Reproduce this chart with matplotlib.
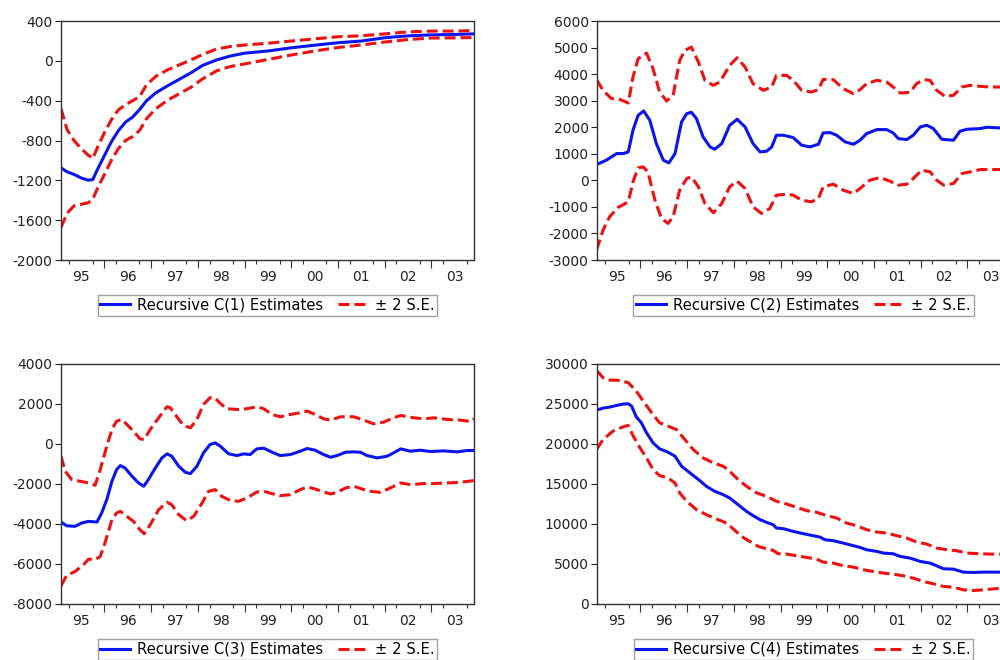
import matplotlib
matplotlib.use("Agg")
import matplotlib.pyplot as plt
from matplotlib.ticker import MultipleLocator, FixedLocator, NullFormatter

plt.rcParams['font.family'] = ['DejaVu Sans']
plt.rcParams['axes.unicode_minus'] = False

# ---- C(1) ----
x1 = [1995.07, 1995.2, 1995.35, 1995.5, 1995.65, 1995.75, 1995.85, 1996.0, 1996.15, 1996.3,
      1996.45, 1996.6, 1996.75, 1996.9, 1997.1, 1997.35, 1997.6, 1997.85, 1998.1, 1998.4,
      1998.7, 1999.0, 1999.5, 2000.0, 2000.5, 2001.0, 2001.5, 2002.0, 2002.5, 2003.0,
      2003.5, 2003.91]
c1_est = [-1074, -1114, -1140, -1175, -1198, -1192, -1090, -950, -810, -700,
          -615, -565, -490, -400, -320, -250, -185, -120, -45, 10,
          50, 78, 100, 132, 158, 183, 200, 233, 252, 262, 266, 272]
c1_up = [-480, -690, -800, -880, -945, -980, -870, -720, -590, -490,
         -440, -400, -360, -240, -155, -90, -40, 10, 65, 120,
         145, 160, 178, 200, 222, 243, 253, 272, 292, 300, 300, 305]
c1_lo = [-1673, -1530, -1455, -1440, -1425, -1390, -1280, -1140, -995, -880,
         -800, -760, -700, -580, -480, -395, -330, -265, -180, -100,
         -55, -30, 15, 60, 100, 135, 160, 190, 215, 230, 232, 235]

# ---- C(2) ----
x2_est = [1995.06, 1995.27, 1995.49, 1995.63, 1995.74, 1995.84, 1995.95, 1996.07, 1996.2, 1996.34,
          1996.49, 1996.61, 1996.74, 1996.88, 1996.99, 1997.09, 1997.2, 1997.34, 1997.49, 1997.59,
          1997.74, 1997.91, 1998.07, 1998.24, 1998.41, 1998.56, 1998.7, 1998.81, 1998.91, 1999.06,
          1999.27, 1999.45, 1999.63, 1999.81, 1999.91, 2000.06, 2000.2, 2000.38, 2000.56, 2000.7,
          2000.84, 2001.06, 2001.27, 2001.41, 2001.52, 2001.7, 2001.84, 2001.99, 2002.13, 2002.27,
          2002.45, 2002.7, 2002.84, 2002.99, 2003.27, 2003.41, 2003.7, 2003.91]
c2_est = [597, 760, 1011, 1011, 1074, 1889, 2453, 2616, 2265, 1387,
          760, 660, 1011, 2202, 2515, 2566, 2327, 1638, 1262, 1174,
          1387, 2077, 2302, 2014, 1387, 1074, 1099, 1262, 1701, 1701,
          1613, 1325, 1262, 1362, 1788, 1801, 1701, 1450, 1362, 1513,
          1763, 1914, 1914, 1788, 1575, 1538, 1701, 2014, 2077, 1952,
          1550, 1513, 1851, 1927, 1952, 2002, 1977, 1977]
x2_up = [1995.06, 1995.2, 1995.38, 1995.52, 1995.74, 1995.84, 1995.95, 1996.13, 1996.27, 1996.41,
         1996.56, 1996.7, 1996.84, 1996.95, 1997.09, 1997.24, 1997.38, 1997.56, 1997.7, 1997.91,
         1998.07, 1998.24, 1998.41, 1998.63, 1998.81, 1998.91, 1999.13, 1999.27, 1999.45, 1999.66,
         1999.81, 1999.91, 2000.13, 2000.34, 2000.56, 2000.7, 2000.84, 2001.06, 2001.27, 2001.41,
         2001.56, 2001.77, 2001.91, 2002.06, 2002.2, 2002.34, 2002.52, 2002.7, 2002.88, 2003.06,
         2003.27, 2003.49, 2003.7, 2003.91]
c2_up = [3794, 3393, 3079, 3079, 2916, 3894, 4584, 4797, 4207, 3330,
         2992, 3205, 4521, 4897, 5022, 4458, 3769, 3581, 3706, 4333,
         4621, 4270, 3643, 3393, 3518, 3957, 3957, 3769, 3393, 3330,
         3418, 3806, 3794, 3455, 3267, 3418, 3643, 3769, 3706, 3518,
         3292, 3318, 3643, 3794, 3769, 3393, 3167, 3205, 3518, 3581,
         3543, 3518, 3518, 3518]
x2_lo = [1995.06, 1995.2, 1995.34, 1995.52, 1995.74, 1995.84, 1995.95, 1996.06, 1996.16, 1996.31,
         1996.45, 1996.59, 1996.7, 1996.84, 1996.99, 1997.09, 1997.24, 1997.38, 1997.56, 1997.74,
         1997.91, 1998.07, 1998.24, 1998.41, 1998.59, 1998.77, 1998.91, 1999.13, 1999.27, 1999.45,
         1999.66, 1999.81, 1999.91, 2000.13, 2000.34, 2000.56, 2000.7, 2000.91, 2001.13, 2001.34,
         2001.52, 2001.7, 2001.84, 2002.02, 2002.2, 2002.34, 2002.49, 2002.7, 2002.88, 2003.06,
         2003.27, 2003.49, 2003.7, 2003.91]
c2_lo = [-2624, -1872, -1371, -1020, -807, -55, 471, 509, 322, -744,
         -1433, -1621, -1371, -368, 71, 134, -242, -869, -1220, -869,
         -242, -29, -305, -995, -1245, -1057, -556, -518, -556, -744,
         -807, -681, -242, -142, -368, -493, -305, 9, 109, -29,
         -180, -142, 71, 384, 322, 9, -180, -117, 259, 322,
         409, 409, 409, 409]

# ---- C(3) ----
x3_est = [1995.07, 1995.19, 1995.37, 1995.51, 1995.66, 1995.84, 1995.94, 1996.05, 1996.16, 1996.26,
          1996.34, 1996.44, 1996.59, 1996.73, 1996.84, 1996.94, 1997.09, 1997.23, 1997.34, 1997.44,
          1997.59, 1997.73, 1997.84, 1997.98, 1998.12, 1998.26, 1998.37, 1998.48, 1998.66, 1998.84,
          1998.98, 1999.12, 1999.26, 1999.41, 1999.59, 1999.76, 1999.98, 2000.19, 2000.34, 2000.51,
          2000.69, 2000.84, 2000.98, 2001.16, 2001.34, 2001.48, 2001.62, 2001.84, 2002.05, 2002.19,
          2002.34, 2002.55, 2002.76, 2002.98, 2003.26, 2003.55, 2003.76, 2003.91]
c3_est = [-3911, -4095, -4128, -3961, -3878, -3911, -3461, -2793, -1875, -1291,
          -1090, -1207, -1624, -1958, -2125, -1791, -1207, -707, -506, -623,
          -1124, -1424, -1491, -1124, -456, -39, 44, -123, -506, -590,
          -506, -540, -256, -223, -423, -590, -540, -373, -239, -323,
          -540, -673, -590, -423, -406, -423, -590, -707, -623, -456,
          -256, -373, -323, -389, -356, -406, -339, -339]
x3_up = [1995.07, 1995.16, 1995.3, 1995.48, 1995.66, 1995.8, 1995.91, 1996.05, 1996.16, 1996.26,
         1996.37, 1996.48, 1996.62, 1996.76, 1996.85, 1996.98, 1997.16, 1997.34, 1997.41, 1997.55,
         1997.69, 1997.84, 1997.98, 1998.12, 1998.26, 1998.36, 1998.48, 1998.62, 1998.84, 1999.05,
         1999.26, 1999.41, 1999.59, 1999.76, 1999.98, 2000.19, 2000.34, 2000.51, 2000.69, 2000.84,
         2001.05, 2001.34, 2001.55, 2001.76, 2001.98, 2002.19, 2002.34, 2002.62, 2002.84, 2003.05,
         2003.34, 2003.62, 2003.84, 2003.91]
c3_up = [-623, -1374, -1791, -1875, -1958, -2075, -1291, -123, 712, 1129,
         1213, 963, 629, 245, 211, 712, 1296, 1847, 1796, 1346,
         912, 796, 1213, 1964, 2298, 2298, 2014, 1747, 1713, 1747,
         1847, 1747, 1463, 1346, 1463, 1546, 1630, 1463, 1246, 1179,
         1346, 1346, 1179, 996, 1079, 1296, 1413, 1296, 1246, 1296,
         1213, 1179, 1113, 1246]
x3_lo = [1995.07, 1995.19, 1995.37, 1995.55, 1995.66, 1995.8, 1995.91, 1996.01, 1996.16, 1996.26,
         1996.34, 1996.48, 1996.62, 1996.76, 1996.85, 1996.98, 1997.16, 1997.34, 1997.44, 1997.59,
         1997.76, 1997.91, 1998.09, 1998.23, 1998.37, 1998.51, 1998.69, 1998.87, 1999.05, 1999.26,
         1999.41, 1999.59, 1999.76, 1999.98, 2000.19, 2000.34, 2000.51, 2000.69, 2000.84, 2000.98,
         2001.16, 2001.34, 2001.51, 2001.69, 2001.91, 2002.12, 2002.34, 2002.55, 2002.84, 2003.05,
         2003.34, 2003.62, 2003.91]
c3_lo = [-7099, -6582, -6382, -6048, -5764, -5797, -5630, -4963, -3794, -3460,
         -3377, -3627, -3878, -4295, -4495, -4045, -3294, -2926, -3043, -3544,
         -3844, -3627, -2960, -2376, -2292, -2626, -2826, -2876, -2710, -2409,
         -2376, -2493, -2593, -2543, -2292, -2159, -2259, -2409, -2509, -2426,
         -2209, -2125, -2259, -2376, -2426, -2209, -1958, -2042, -1991, -1991,
         -1958, -1925, -1841]

# ---- C(4) ----
x4_est = [1995.06, 1995.2, 1995.34, 1995.49, 1995.63, 1995.74, 1995.81, 1995.91, 1996.02, 1996.13,
          1996.27, 1996.41, 1996.59, 1996.74, 1996.88, 1997.06, 1997.27, 1997.41, 1997.59, 1997.77,
          1997.91, 1998.09, 1998.27, 1998.41, 1998.56, 1998.7, 1998.84, 1998.91, 1999.06, 1999.27,
          1999.49, 1999.7, 1999.84, 1999.95, 2000.13, 2000.34, 2000.56, 2000.7, 2000.84, 2001.06,
          2001.2, 2001.41, 2001.56, 2001.77, 2001.99, 2002.2, 2002.34, 2002.49, 2002.7, 2002.91,
          2003.13, 2003.34, 2003.7, 2003.91]
c4_est = [24201, 24451, 24576, 24785, 24952, 24994, 24702, 23367, 22616, 21364,
          20112, 19361, 18944, 18444, 17192, 16358, 15398, 14689, 14063, 13646,
          13229, 12395, 11560, 11017, 10517, 10183, 9891, 9474, 9390, 9056,
          8764, 8514, 8347, 8014, 7889, 7596, 7262, 7054, 6762, 6553,
          6345, 6261, 5927, 5719, 5302, 5093, 4760, 4384, 4342, 3967,
          3925, 3967, 3967, 3967]
x4_up = [1995.06, 1995.2, 1995.34, 1995.56, 1995.74, 1995.91, 1996.06, 1996.24, 1996.41, 1996.59,
         1996.77, 1996.95, 1997.13, 1997.34, 1997.56, 1997.77, 1997.91, 1998.09, 1998.27, 1998.49,
         1998.7, 1998.91, 1999.13, 1999.34, 1999.56, 1999.77, 1999.99, 2000.2, 2000.41, 2000.63,
         2000.84, 2001.06, 2001.27, 2001.49, 2001.7, 2001.91, 2002.13, 2002.34, 2002.56, 2002.77,
         2002.99, 2003.27, 2003.49, 2003.7, 2003.91]
c4_up = [29166, 28248, 27956, 27914, 27622, 26579, 25327, 23867, 22616, 22198,
         21781, 20530, 19278, 18235, 17609, 17192, 16566, 15523, 14689, 13854,
         13437, 12811, 12478, 12061, 11643, 11435, 11017, 10726, 10099, 9766,
         9265, 8973, 8848, 8514, 8222, 7721, 7471, 6971, 6762, 6637,
         6345, 6261, 6220, 6220, 6220]
x4_lo = [1995.06, 1995.2, 1995.41, 1995.63, 1995.74, 1995.84, 1995.99, 1996.13, 1996.27, 1996.41,
         1996.59, 1996.74, 1996.84, 1996.99, 1997.2, 1997.41, 1997.63, 1997.84, 1997.99, 1998.16,
         1998.34, 1998.52, 1998.7, 1998.84, 1998.95, 1999.13, 1999.34, 1999.56, 1999.77, 1999.91,
         2000.13, 2000.34, 2000.56, 2000.77, 2000.99, 2001.2, 2001.41, 2001.63, 2001.84, 2002.06,
         2002.27, 2002.49, 2002.7, 2002.91, 2003.13, 2003.34, 2003.56, 2003.7, 2003.91]
c4_lo = [19278, 20530, 21573, 22115, 22282, 21030, 19486, 18235, 16775, 16024,
         15732, 15106, 13854, 12811, 11768, 11142, 10600, 10099, 9349, 8431,
         7805, 7179, 6887, 6679, 6261, 6220, 6011, 5802, 5594, 5218,
         5093, 4760, 4593, 4259, 4050, 3842, 3717, 3508, 3216, 2799,
         2507, 2173, 2090, 1756, 1673, 1756, 1881, 1965, 2000]

years = list(range(1995, 2005))
year_labels = ['95', '96', '97', '98', '99', '00', '01', '02', '03']

panels = [
    # (axes rect, x_est, est, x_up, up, x_lo, lo, ylim, ystep, name)
    ([0.061, 0.606, 0.413, 0.362], x1, c1_est, x1, c1_up, x1, c1_lo, (-2000, 400), 400, 'C(1)'),
    ([0.597, 0.606, 0.413, 0.362], x2_est, c2_est, x2_up, c2_up, x2_lo, c2_lo, (-3000, 6000), 1000, 'C(2)'),
    ([0.061, 0.085, 0.413, 0.364], x3_est, c3_est, x3_up, c3_up, x3_lo, c3_lo, (-8000, 4000), 2000, 'C(3)'),
    ([0.597, 0.085, 0.413, 0.364], x4_est, c4_est, x4_up, c4_up, x4_lo, c4_lo, (0, 30000), 5000, 'C(4)'),
]

fig = plt.figure(figsize=(10, 6.6), dpi=100)

for rect, xe, ye, xu, yu, xl, yl, ylim, ystep, name in panels:
    ax = fig.add_axes(rect)
    dash = (3.6, 1.6)
    ax.plot(xe, ye, color='#0a14f0', lw=2.2, label='Recursive %s Estimates' % name)
    ax.plot(xu, yu, color='#f01010', lw=2.2, dashes=dash, label='\u00b1 2 S.E.')
    ax.plot(xl, yl, color='#f01010', lw=2.2, dashes=dash)

    ax.set_xlim(1995.07, 2003.91)
    ax.set_ylim(*ylim)
    ax.yaxis.set_major_locator(MultipleLocator(ystep))

    # year labels centred within each year, long ticks on year boundaries
    ax.set_xticks([y + 0.5 for y in years[:-1]], labels=year_labels)
    ax.xaxis.set_minor_locator(FixedLocator([y + q / 4 for y in years for q in (1, 3)]))
    ax.tick_params(axis='x', which='major', length=0, pad=7, labelsize=10, colors='#222222')
    ax.tick_params(axis='x', which='minor', length=3, width=0.8, color='#333333')
    ax.tick_params(axis='y', length=4, width=0.8, labelsize=10, pad=2, colors='#222222')

    sec = ax.secondary_xaxis('bottom')
    sec.set_xticks(years)
    sec.xaxis.set_major_formatter(NullFormatter())
    sec.tick_params(length=6, width=0.8, color='#333333')
    sec.spines['bottom'].set_visible(False)

    for sp in ax.spines.values():
        sp.set_linewidth(1.0)
        sp.set_color('#333333')

    leg = ax.legend(loc='upper center', bbox_to_anchor=(0.5, -0.145), ncol=2,
                    fontsize=10.6, frameon=True, fancybox=False, handlelength=2.0,
                    handletextpad=0.5, columnspacing=1.0, borderpad=0.2,
                    borderaxespad=0)
    leg.get_frame().set_edgecolor('#8a8a8a')
    leg.get_frame().set_linewidth(1.0)

fig.savefig('out.png', dpi=100)
